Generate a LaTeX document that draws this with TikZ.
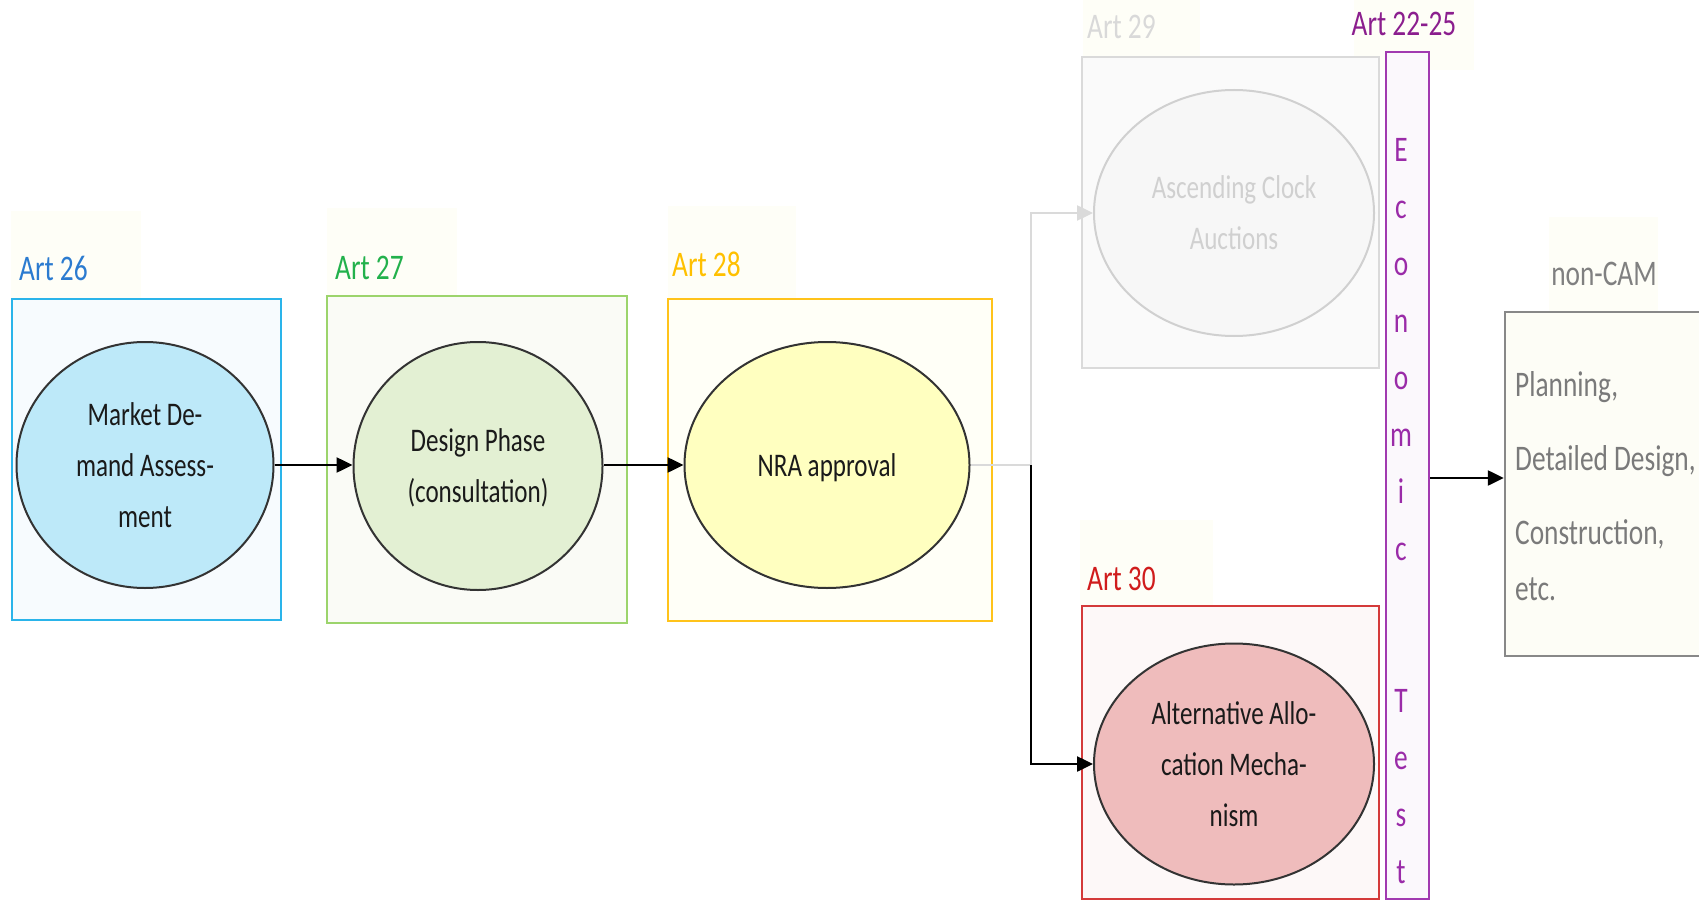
\documentclass[tikz,border=0pt]{standalone}
\usepackage{fontspec}
\setmainfont[FakeStretch=0.76]{Carlito}
\usetikzlibrary{shapes.geometric,arrows.meta,calc}

% palette
\definecolor{ink}{HTML}{1A1A1A}
\definecolor{ellline}{HTML}{333333}
\definecolor{tagfill}{HTML}{FEFEF7}
\definecolor{lab26}{HTML}{2B7BD0}
\definecolor{line26}{HTML}{2AB4EA}
\definecolor{fill26}{HTML}{F7FBFE}
\definecolor{ell26}{HTML}{BDE9F9}
\definecolor{lab27}{HTML}{22B14C}
\definecolor{line27}{HTML}{9CD46C}
\definecolor{fill27}{HTML}{FAFBF6}
\definecolor{ell27}{HTML}{E3F0D3}
\definecolor{lab28}{HTML}{FFC000}
\definecolor{line28}{HTML}{FFC31A}
\definecolor{fill28}{HTML}{FFFFF7}
\definecolor{ell28}{HTML}{FFFFC0}
\definecolor{lab29}{HTML}{D9D9D9}
\definecolor{line29}{HTML}{DADADA}
\definecolor{fill29}{HTML}{FAFAFA}
\definecolor{ell29}{HTML}{F7F7F7}
\definecolor{ellline29}{HTML}{D0D0D0}
\definecolor{txt29}{HTML}{D0D0D0}
\definecolor{lab30}{HTML}{D01C1C}
\definecolor{line30}{HTML}{D43A3A}
\definecolor{fill30}{HTML}{FDF8F8}
\definecolor{ell30}{HTML}{EFBCBC}
\definecolor{labecon}{HTML}{8B1E8E}
\definecolor{lineecon}{HTML}{A13AB0}
\definecolor{fillecon}{HTML}{FBF8FC}
\definecolor{txtecon}{HTML}{9A2BA8}
\definecolor{labnc}{HTML}{808080}
\definecolor{linenc}{HTML}{888888}
\definecolor{fillnc}{HTML}{FDFDF6}
\definecolor{txtnc}{HTML}{7A7A7A}

\begin{document}
\begin{tikzpicture}[x=1pt,y=-1pt,
  frame/.style={rectangle, draw, line width=2.5pt, inner sep=0pt},
  phase/.style={ellipse, draw=ellline, line width=2pt, inner sep=0pt,
    align=center, text=ink, text depth=0pt, font=\fontsize{33}{51}\selectfont},
  artlabel/.style={anchor=west, inner sep=0pt, font=\fontsize{36}{40}\selectfont},
  flow/.style={line width=2.5pt, -{Triangle[length=16pt,width=15pt]}},
  tagbg/.style={fill=tagfill, draw=none}
]
\useasboundingbox (0,0) rectangle (1699,901);
\clip (0,0) rectangle (1699,901);

% pale label backgrounds
\fill[tagbg] (11,211) rectangle (141,298);
\fill[tagbg] (327,208) rectangle (457,296);
\fill[tagbg] (668,206) rectangle (796,299);
\fill[tagbg] (1083,0) rectangle (1200,57);
\fill[tagbg] (1354,0) rectangle (1474,70);
\fill[tagbg] (1080,520) rectangle (1213,606);
\fill[tagbg] (1549,217) rectangle (1658,312);

% article frames
\node[frame, draw=line26, fill=fill26, minimum width=269pt, minimum height=321pt] (b26) at (146.5,459.5) {};
\node[frame, draw=line27, fill=fill27, minimum width=300pt, minimum height=327pt] (b27) at (477,459.5) {};
\node[frame, draw=line28, fill=fill28, minimum width=324pt, minimum height=322pt] (b28) at (830,460) {};
\node[frame, draw=line29, fill=fill29, minimum width=297pt, minimum height=311pt] (b29) at (1230.5,212.5) {};
\node[frame, draw=line30, fill=fill30, minimum width=297pt, minimum height=293pt] (b30) at (1230.5,752.5) {};
\node[frame, draw=lineecon, fill=fillecon, minimum width=43pt, minimum height=847pt] (econ) at (1407.5,475.5) {};
\node[frame, draw=linenc, fill=fillnc, minimum width=235pt, minimum height=344pt] (noncam) at (1622.5,484) {};

% article labels
\node[artlabel, text=lab26] (l26) at (19,268) {Art 26};
\node[artlabel, text=lab27] (l27) at (335,268) {Art 27};
\node[artlabel, text=lab28] (l28) at (672,264) {Art 28};
\node[artlabel, text=lab29] (l29) at (1087,27) {Art 29};
\node[artlabel, text=lab30] (l30) at (1087,579) {Art 30};
\node[artlabel, anchor=center, text=labecon] (lecon) at (1404,24) {Art 22-25};
\node[artlabel, anchor=center, text=labnc] (lnc) at (1604,274) {non-CAM};

% process steps
\node[phase, fill=ell26, minimum width=257pt, minimum height=246pt] (e1) at (145,465)
  {Market De-\\mand Assess-\\ment};
\node[phase, fill=ell27, minimum width=249pt, minimum height=248pt] (e2) at (478,466)
  {Design Phase\\(consultation)};
\node[phase, fill=ell28, minimum width=285pt, minimum height=246pt] (e3) at (827,465)
  {NRA approval};
\node[phase, fill=ell29, draw=ellline29, text=txt29, minimum width=280pt, minimum height=246pt] (e4) at (1234,213)
  {Ascending Clock\\Auctions};
\node[phase, fill=ell30, minimum width=280pt, minimum height=241pt] (e5) at (1234,764)
  {Alternative Allo-\\cation Mecha-\\nism};

% vertical economic test caption
\node[anchor=north, inner sep=0pt, align=center, text=txtecon,
  font=\fontsize{36}{57}\selectfont] (econtext) at (1401,138)
  {E\\c\\o\\n\\o\\m\\i\\c\\[95pt]T\\e\\s\\t};

% downstream activities
\node[anchor=north west, inner sep=0pt, align=left, text=txtnc,
  font=\fontsize{36}{74}\selectfont] (nctext) at (1515,371)
  {Planning,\\Detailed Design,\\Construction,\\[-18pt]etc.};

% connectors
\draw[flow] (e1) -- (e2.west |- e1);
\draw[flow] (e2.east |- e3) -- (e3);
\coordinate (split) at (1031,465);
\draw[line width=2.5pt, draw=line29] (e3) -- (split);
\draw[flow, draw=line29] (split) |- (e4);
\draw[flow] (split) |- (e5);
\coordinate (lvl) at (1460,478);
\draw[flow] (econ.east |- lvl) -- (noncam.west |- lvl);
\end{tikzpicture}
\end{document}
